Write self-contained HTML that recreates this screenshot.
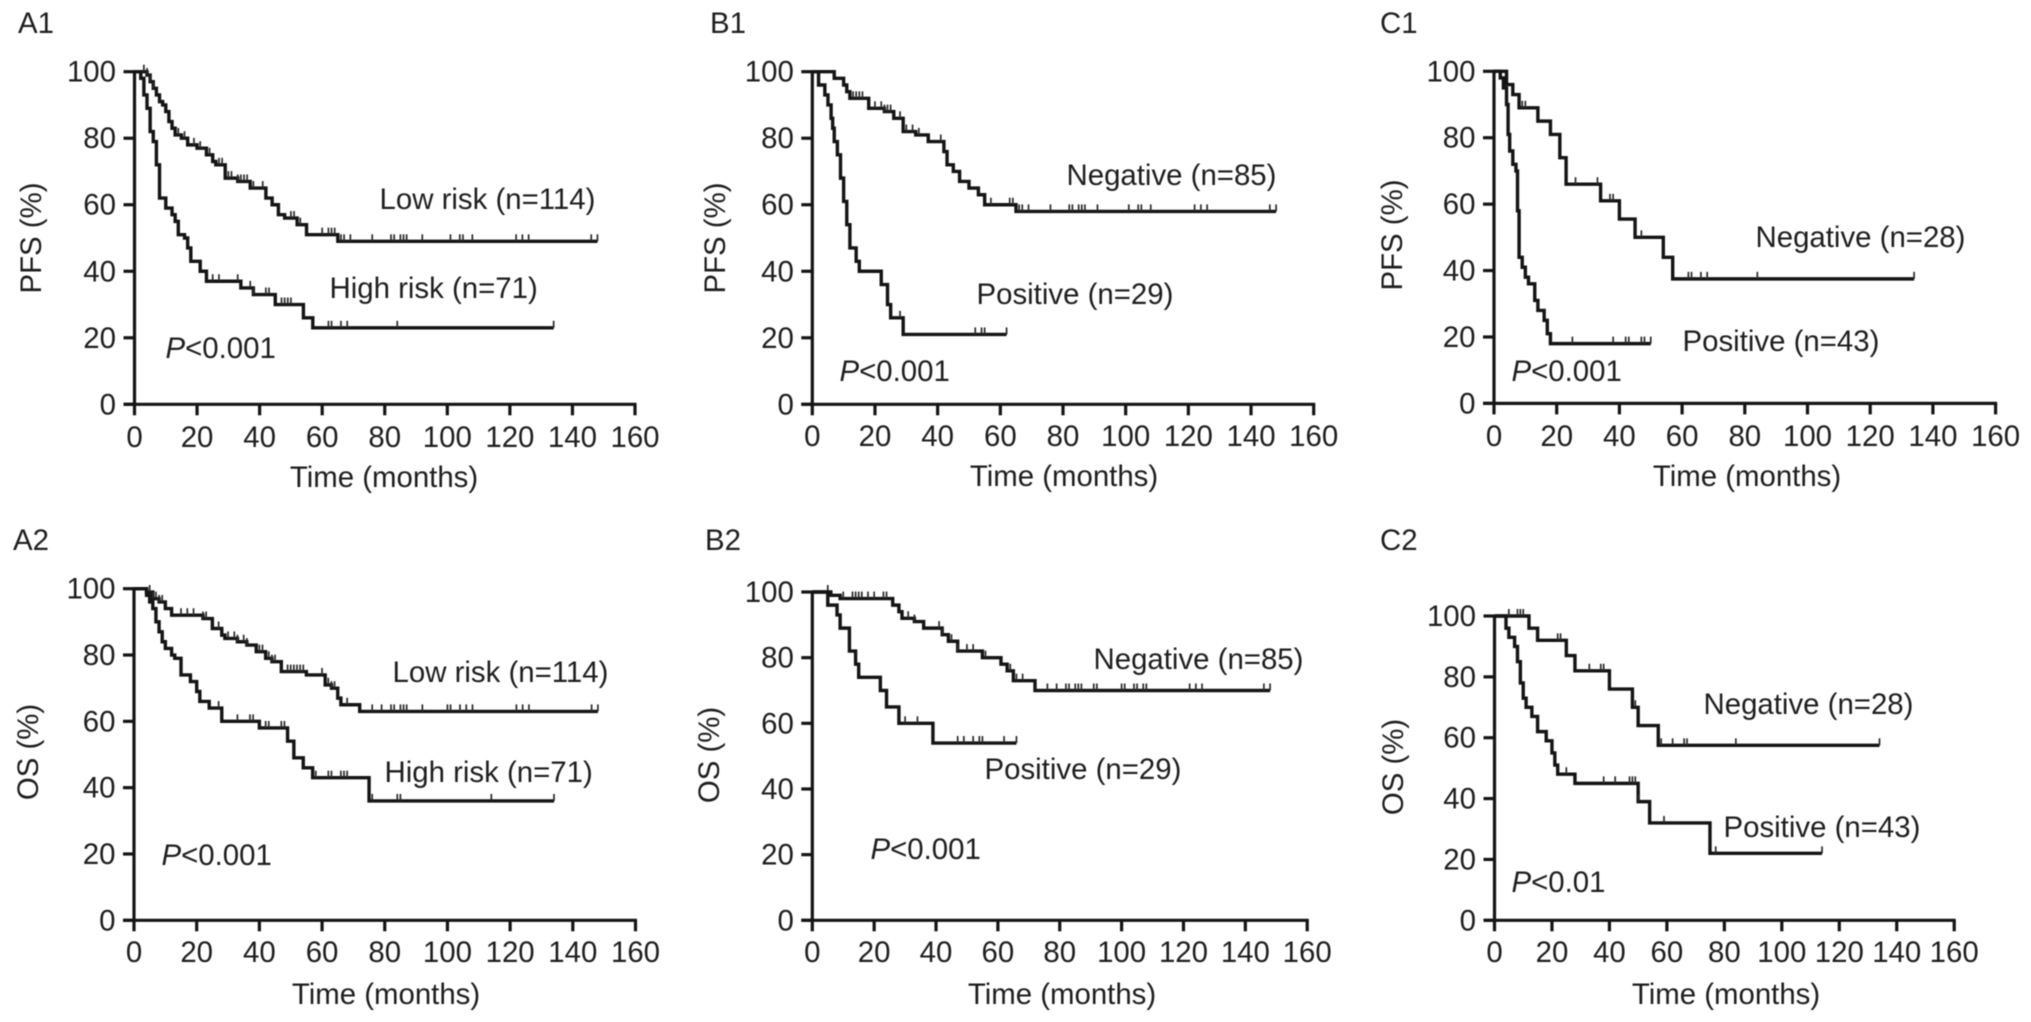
<!DOCTYPE html>
<html lang="en">
<head>
<meta charset="utf-8">
<title>Kaplan-Meier survival curves</title>
<style>
html,body{margin:0;padding:0;background:#fff;}
#figure{display:block;width:2031px;height:1022px;filter:blur(0.55px);}
text{font-family:"Liberation Sans",sans-serif;font-size:29.4px;fill:#1e1e1e;}
.curve{fill:none;stroke:#141414;stroke-width:3.4px;stroke-linejoin:miter;}
.axis{stroke:#141414;stroke-width:3.2px;fill:none;}
.censor{stroke:#2a2a2a;stroke-width:1.7px;}
</style>
</head>
<body>
<svg id="figure" xmlns="http://www.w3.org/2000/svg" width="2031" height="1022" viewBox="0 0 2031 1022"></svg>
<script>
const xTickLabels = [0,20,40,60,80,100,120,140,160];
const yTickLabels = [0,20,40,60,80,100];

const a1LowTimes = [4,5,6,7,8,9,10,11,12,13,15,17,20,23,25,26,29,33,37,42,44,46,48,52,55,65];
const a1LowSurv = [99,97,95,93,91,90,88,85,83,81,80,78,77,75,73,72,68,67,65,62,60,57,56,54,51,49];
const a1LowCensor = [3,4,5,6,14,16,19,21,24,27,28,30,31,33,34,35,36,38,41,50,51,53,60,62,63,64,66,67,69,76,82,83,85,86,87,92,101,104,105,108,122,124,126,146,148];
const a1LowEnd = 148;
const a1HighTimes = [2,3,4,5,6,7,8,10,12,13,14,16,17,18,21,23,34,38,45,54,57];
const a1HighSurv = [98,93,89,82,79,72,62,59,57,55,51,50,47,43,40,37,35,33,30,26,23];
const a1HighCensor = [25,27,33,37,38,42,43,47,48,49,50,62,63,66,68,84,134];
const a1HighEnd = 134;

const b1NegTimes = [7,10,11,12,18,23,26,29,33,37,42,43,45,47,50,53,55,65];
const b1NegSurv = [98,96,94,92,89,88,86,82,81,79,76,72,70,67,65,63,60,58];
const b1NegCensor = [13,14,15,16,20,22,23,24,25,28,30,32,34,41,57,63,64,66,67,69,76,82,83,85,86,87,91,101,104,105,108,122,124,126,146,148];
const b1NegEnd = 148;
const b1PosTimes = [2,4,5,6,6.5,7,8,9,10,11,12,14,15,22,24,25,29];
const b1PosSurv = [96,93,90,86,83,79,75,68,61,54,47,43,40,36,30,26,21];
const b1PosCensor = [28,52,54,55,62];
const b1PosEnd = 62;

const c1NegTimes = [4,6,8,14,18,21,23,34,40,45,54,57];
const c1NegSurv = [96,93,89,85,81,74,66,61,55.5,50,44,37.5];
const c1NegCensor = [9,10,26,33,37,38,47,62,63,66,68,84,134];
const c1NegEnd = 134;
const c1PosTimes = [2,3,4,4.5,5,6,7,7.5,8,9,10,11,13,14,16,17,18];
const c1PosSurv = [98,95,90,81,76,72,70,58,44,41,38,36,31,28,25,21,18];
const c1PosCensor = [25,38,42,43,47,48,50];
const c1PosEnd = 50;

const a2LowTimes = [4,6,8,10,12,22,25,28,29,33,36,39,42,44,47,55,61,63,65,66,72];
const a2LowSurv = [99,97,96,94,92,91,88,86,85,84,83,81,79,78,75,74,71,70,67,65,63];
const a2LowCensor = [5,6,7,8,9,15,17,19,22,23,27,30,32,33,35,36,40,41,43,44,45,49,50,51,52,53,54,60,62,63,64,68,76,79,82,83,85,86,87,92,100,101,104,106,108,122,124,126,146,148];
const a2LowEnd = 148;
const a2HighTimes = [4,5,6,7,8,9,10,12,13,15,18,20,21,24,28,40,49,51,54,57,75];
const a2HighSurv = [98,96,94,90,87,84,82,80,79,74,72,69,66,64,60,58,54,49,46,43,36];
const a2HighCensor = [27,33,37,38,42,43,47,48,58,62,63,66,67,68,76,84,85,114,134];
const a2HighEnd = 134;

const b2NegTimes = [6,9,26,28,29,33,36,42,44,47,55,61,63,65,72];
const b2NegSurv = [99,98,96,94,92,91,89,87,85,82,80,78,76,73,70];
const b2NegCensor = [5,10,13,14,15,16,18,20,23,24,31,33,41,42,45,47,50,52,56,64,66,68,76,79,82,83,85,86,87,91,92,100,101,104,105,107,108,122,124,126,146,148];
const b2NegEnd = 148;
const b2PosTimes = [5,8,9,12,14,15,22,24,28,39];
const b2PosSurv = [96,93,89,82,78,74,70,65,60,54];
const b2PosCensor = [30,34,47,49,52,54,55,62,66];
const b2PosEnd = 66;

const c2NegTimes = [12,15,25,28,40,48,50,57];
const c2NegSurv = [96,92,87,82,76,70,64,57.5];
const c2NegCensor = [5,8,9,10,22,23,33,37,38,49,58,62,66,67,84,134];
const c2NegEnd = 134;
const c2PosTimes = [4,5,7,8,9,10,11,13,15,18,20,21,22,28,50,54,75];
const c2PosSurv = [96,93,90,85,78,73,70,67,62,59,55,51,48,45,39,32,22];
const c2PosCensor = [25,38,42,47,48,49,50,59,77,114];
const c2PosEnd = 114;

const panels = [
  {id:'a1',title:'A1',yTitle:'PFS (%)',p:'<0.001',box:[134.5,635,404.3,71.7],
   titleAt:[18,33],xTick:447,xTitle:[384,487],yTitleAt:[41,238],pAt:[165.5,358],
   series:[
     {name:'Low risk (n=114)',key:'low',times:a1LowTimes,surv:a1LowSurv,censor:a1LowCensor,end:a1LowEnd,at:[379.5,209]},
     {name:'High risk (n=71)',key:'high',times:a1HighTimes,surv:a1HighSurv,censor:a1HighCensor,end:a1HighEnd,at:[329.5,298]}]},
  {id:'b1',title:'B1',yTitle:'PFS (%)',p:'<0.001',box:[812.3,1313.7,404.3,71.7],
   titleAt:[710,33],xTick:446,xTitle:[1064,486],yTitleAt:[725,238],pAt:[839.5,381],
   series:[
     {name:'Negative (n=85)',key:'negative',times:b1NegTimes,surv:b1NegSurv,censor:b1NegCensor,end:b1NegEnd,at:[1066.5,185]},
     {name:'Positive (n=29)',key:'positive',times:b1PosTimes,surv:b1PosSurv,censor:b1PosCensor,end:b1PosEnd,at:[976.5,304]}]},
  {id:'c1',title:'C1',yTitle:'PFS (%)',p:'<0.001',box:[1494,1995.6,403.4,71.3],
   titleAt:[1380,33],xTick:446,xTitle:[1747,486],yTitleAt:[1402,235],pAt:[1511.5,381],
   series:[
     {name:'Negative (n=28)',key:'negative',times:c1NegTimes,surv:c1NegSurv,censor:c1NegCensor,end:c1NegEnd,at:[1755.5,247]},
     {name:'Positive (n=43)',key:'positive',times:c1PosTimes,surv:c1PosSurv,censor:c1PosCensor,end:c1PosEnd,at:[1682.5,351]}]},
  {id:'a2',title:'A2',yTitle:'OS (%)',p:'<0.001',box:[134,635.5,920.3,588.7],
   titleAt:[13,550],xTick:962,xTitle:[386,1004],yTitleAt:[38,752],pAt:[161.5,865],
   series:[
     {name:'Low risk (n=114)',key:'low',times:a2LowTimes,surv:a2LowSurv,censor:a2LowCensor,end:a2LowEnd,at:[392.5,682]},
     {name:'High risk (n=71)',key:'high',times:a2HighTimes,surv:a2HighSurv,censor:a2HighCensor,end:a2HighEnd,at:[384.5,782]}]},
  {id:'b2',title:'B2',yTitle:'OS (%)',p:'<0.001',box:[812.3,1307.2,920.3,592],
   titleAt:[705,550],xTick:962,xTitle:[1062,1004],yTitleAt:[719,755],pAt:[870.5,859],
   series:[
     {name:'Negative (n=85)',key:'negative',times:b2NegTimes,surv:b2NegSurv,censor:b2NegCensor,end:b2NegEnd,at:[1093.5,669]},
     {name:'Positive (n=29)',key:'positive',times:b2PosTimes,surv:b2PosSurv,censor:b2PosCensor,end:b2PosEnd,at:[984.5,779]}]},
  {id:'c2',title:'C2',yTitle:'OS (%)',p:'<0.01',box:[1494.5,1954.2,920.3,616],
   titleAt:[1380,550],xTick:962,xTitle:[1726,1004],yTitleAt:[1403,767],pAt:[1511.5,892],
   series:[
     {name:'Negative (n=28)',key:'negative',times:c2NegTimes,surv:c2NegSurv,censor:c2NegCensor,end:c2NegEnd,at:[1703.5,714]},
     {name:'Positive (n=43)',key:'positive',times:c2PosTimes,surv:c2PosSurv,censor:c2PosCensor,end:c2PosEnd,at:[1723.5,837]}]}
];

const svg = document.getElementById('figure');
const NS = 'http://www.w3.org/2000/svg';

function make(parent, tag, attrs, content) {
  const el = document.createElementNS(NS, tag);
  for (const k in attrs) el.setAttribute(k, attrs[k]);
  if (content !== undefined) el.textContent = content;
  parent.appendChild(el);
  return el;
}

function survivalAt(times, surv, t) {
  let s = 100;
  for (let i = 0; i < times.length; i++) {
    if (times[i] <= t) s = surv[i];
  }
  return s;
}

panels.forEach(function (p) {
  const x = function (v) { return p.box[0] + (p.box[1] - p.box[0]) * v / 160; };
  const y = function (v) { return p.box[2] + (p.box[3] - p.box[2]) * v / 100; };

  const g = make(svg, 'g', {});
  
  

  const title = make(g, 'text', {x: p.titleAt[0], y: p.titleAt[1]}, p.title);
  
  

  const xAxis = make(g, 'line', {class: 'axis', x1: x(0) - 11, x2: x(160) + 1.5, y1: y(0), y2: y(0)});
  
  

  const yAxis = make(g, 'line', {class: 'axis', x1: x(0), x2: x(0), y1: y(100) - 1.5, y2: y(0) + 1.5});
  
  

  xTickLabels.forEach(function (v) {
    const tick = make(g, 'line', {class: 'axis', x1: x(v), x2: x(v), y1: y(0), y2: y(0) + 11});
    
    
    const label = make(g, 'text', {x: x(v), y: p.xTick, 'text-anchor': 'middle'}, String(v));
    
    
  });

  yTickLabels.forEach(function (v) {
    const tick = make(g, 'line', {class: 'axis', x1: x(0) - 11, x2: x(0), y1: y(v), y2: y(v)});
    
    
    const label = make(g, 'text', {x: x(0) - 18.5, y: y(v) + 10, 'text-anchor': 'end'}, String(v));
    
    
  });

  const xTitle = make(g, 'text', {x: p.xTitle[0], y: p.xTitle[1], 'text-anchor': 'middle'}, 'Time (months)');
  
  

  const yTitle = make(g, 'text', {
    x: p.yTitleAt[0], y: p.yTitleAt[1], 'text-anchor': 'middle',
    transform: 'rotate(-90 ' + p.yTitleAt[0] + ' ' + p.yTitleAt[1] + ')'
  }, p.yTitle);
  
  

  p.series.forEach(function (s) {
    let d = 'M' + x(0) + ' ' + y(100);
    let prev = 100;
    s.times.forEach(function (t, i) {
      d += 'L' + x(t) + ' ' + y(prev) + 'L' + x(t) + ' ' + y(s.surv[i]);
      prev = s.surv[i];
    });
    d += 'L' + x(s.end) + ' ' + y(prev);
    const curve = make(g, 'path', {class: 'curve', d: d});
    
    

    s.censor.forEach(function (t) {
      const sv = survivalAt(s.times, s.surv, t);
      const mark = make(g, 'line', {class: 'censor', x1: x(t), x2: x(t), y1: y(sv), y2: y(sv) - 7});
      
      
    });

    const label = make(g, 'text', {x: s.at[0], y: s.at[1]}, s.name);
    
    
  });

  const pText = make(g, 'text', {x: p.pAt[0], y: p.pAt[1]});
  
  
  make(pText, 'tspan', {'font-style': 'italic'}, 'P');
  make(pText, 'tspan', {}, p.p);
});
</script>
</body>
</html>
